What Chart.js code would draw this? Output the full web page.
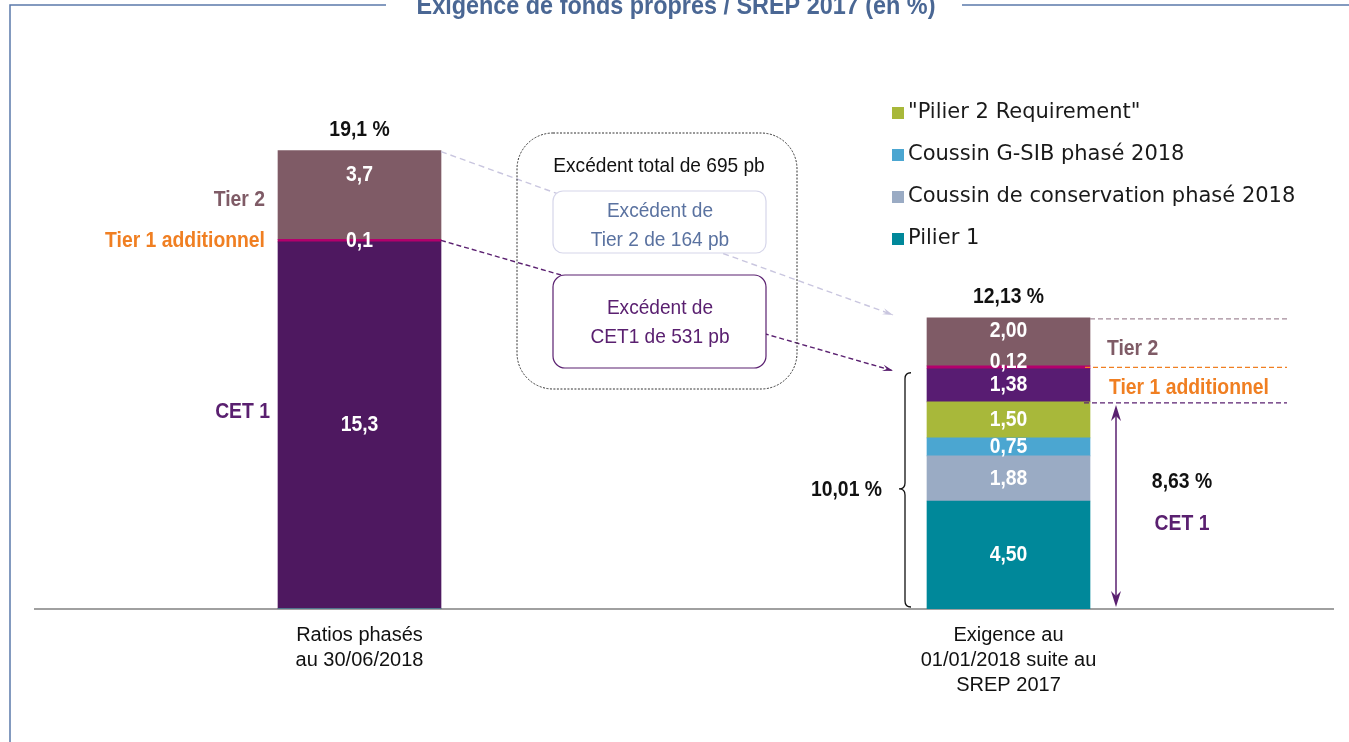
<!DOCTYPE html>
<html lang="fr">
<head>
<meta charset="utf-8">
<title>Exigence de fonds propres / SREP 2017 (en %)</title>
<script src="https://cdn.jsdelivr.net/npm/chart.js@4.4.1/dist/chart.umd.min.js"></script>
<style>
  html, body { margin: 0; padding: 0; background: #fff; }
  #wrap { width: 1349px; height: 742px; }
</style>
</head>
<body>
<div id="wrap"><canvas id="srepChart" width="1349" height="742"></canvas></div>
<script>
// Data (en %)
const categories = [['Ratios phasés', 'au 30/06/2018'], ['Exigence au', '01/01/2018 suite au', 'SREP 2017']];
const pilier1 = [0, 4.50];
const coussinConservation = [0, 1.88];
const coussinGsib = [0, 0.75];
const pilier2 = [0, 1.50];
const cet1 = [15.3, 1.38];
const tier1Add = [0.1, 0.12];
const tier2 = [3.7, 2.00];
const decimals = [1, 2];
const excedentTotal = 'Excédent total de 695 pb';
const excedentTier2 = ['Excédent de', 'Tier 2 de 164 pb'];
const excedentCet1 = ['Excédent de', 'CET1 de 531 pb'];
const title = 'Exigence de fonds propres / SREP 2017 (en %)';

const NARROW = '"Liberation Sans Narrow", "Arial Narrow", "Liberation Sans", sans-serif';
const f = (size, bold) => (bold ? 'bold ' : '') + size + 'px ' + NARROW;
const fmt = (v, i) => v.toFixed(decimals[i]).replace('.', ',');

const C = {
  tier2: '#7f5b66', at1: '#b3006c', cet1L: '#4e1860', cet1R: '#581c72',
  p2r: '#a8b83a', gsib: '#4ba6d1', cons: '#9aabc4', p1: '#00889a',
  orange: '#f07f22', purple: '#5a2070', frame: '#5b79aa'
};

// narrow look: squeeze the glyphs horizontally
function text(ctx, s, x, y, font, color, align, sx) {
  ctx.save();
  ctx.font = font; ctx.fillStyle = color;
  ctx.textAlign = align || 'center'; ctx.textBaseline = 'middle';
  ctx.translate(x, y); ctx.scale(sx || 0.88, 1);
  ctx.fillText(s, 0, 0);
  ctx.restore();
}

function rrect(ctx, x, y, w, h, r) {
  ctx.beginPath();
  ctx.moveTo(x + r, y);
  ctx.arcTo(x + w, y, x + w, y + h, r);
  ctx.arcTo(x + w, y + h, x, y + h, r);
  ctx.arcTo(x, y + h, x, y, r);
  ctx.arcTo(x, y, x + w, y, r);
  ctx.closePath();
}

function arrowLine(ctx, x1, y1, x2, y2, color, dash, w) {
  ctx.save();
  ctx.strokeStyle = color; ctx.fillStyle = color; ctx.lineWidth = w;
  ctx.setLineDash(dash);
  ctx.beginPath(); ctx.moveTo(x1, y1); ctx.lineTo(x2, y2); ctx.stroke();
  ctx.setLineDash([]);
  const a = Math.atan2(y2 - y1, x2 - x1), L = 11, s = 0.3;
  ctx.beginPath();
  ctx.moveTo(x2, y2);
  ctx.lineTo(x2 - L * Math.cos(a - s), y2 - L * Math.sin(a - s));
  ctx.lineTo(x2 - L * 0.6 * Math.cos(a), y2 - L * 0.6 * Math.sin(a));
  ctx.lineTo(x2 - L * Math.cos(a + s), y2 - L * Math.sin(a + s));
  ctx.closePath(); ctx.fill();
  ctx.restore();
}

function hDash(ctx, x1, x2, y, color) {
  ctx.save();
  ctx.strokeStyle = color; ctx.lineWidth = 1.3; ctx.setLineDash([5, 3]);
  ctx.beginPath(); ctx.moveTo(x1, y); ctx.lineTo(x2, y); ctx.stroke();
  ctx.restore();
}

const annotations = {
  id: 'annotations',
  beforeDraw(chart) {
    const ctx = chart.ctx;
    ctx.save();
    ctx.strokeStyle = C.frame; ctx.lineWidth = 1.5;
    ctx.beginPath();
    ctx.moveTo(10, 742); ctx.lineTo(10, 5); ctx.lineTo(386, 5);
    ctx.moveTo(962, 5); ctx.lineTo(1349, 5);
    ctx.stroke();
    ctx.font = f(26, true); ctx.fillStyle = '#4a6794';
    ctx.textAlign = 'center'; ctx.textBaseline = 'alphabetic';
    ctx.translate(676, 14); ctx.scale(0.9, 1);
    ctx.fillText(title, 0, 0);
    ctx.restore();
  },
  afterDatasetsDraw(chart) {
    const ctx = chart.ctx;
    const y = chart.scales.y;
    const metas = chart.data.datasets.map((_, k) => chart.getDatasetMeta(k));
    const el = (k, i) => metas[k].data[i];
    const L = 0, R = 1;
    const bl = el(4, L), br = el(4, R);
    const leftX2 = bl.x + bl.width / 2, rightX1 = br.x - br.width / 2, rightX2 = br.x + br.width / 2;
    const tier2L = el(6, L), tier2R = el(6, R), at1L = el(5, L), at1R = el(5, R), cetL = el(4, L), cetR = el(4, R);

    // connecting dashed arrows (behind boxes)
    arrowLine(ctx, leftX2, tier2L.y + 1, rightX1 - 34, tier2R.y - 3, '#c9c6df', [6, 4], 1.4);
    arrowLine(ctx, leftX2, at1L.y + 1, rightX1 - 34, cetR.y + 2, C.purple, [5, 3], 1.4);

    // big dotted box
    ctx.save();
    ctx.strokeStyle = '#333'; ctx.lineWidth = 1; ctx.setLineDash([2, 1.5]);
    rrect(ctx, 517, 133, 280, 256, 36); ctx.stroke();
    ctx.restore();
    text(ctx, excedentTotal, 659, 166, f(21), '#111', 'center', 0.91);

    // small boxes
    ctx.save();
    ctx.fillStyle = '#fff'; ctx.lineWidth = 1.2;
    ctx.strokeStyle = '#d6d6ea';
    rrect(ctx, 553, 191, 213, 62, 10); ctx.fill(); ctx.stroke();
    ctx.strokeStyle = C.purple;
    rrect(ctx, 553, 275, 213, 93, 12); ctx.fill(); ctx.stroke();
    ctx.restore();
    text(ctx, excedentTier2[0], 660, 211, f(21), '#5a72a0', 'center', 0.91);
    text(ctx, excedentTier2[1], 660, 240, f(21), '#5a72a0', 'center', 0.91);
    text(ctx, excedentCet1[0], 660, 308, f(21), C.purple, 'center', 0.91);
    text(ctx, excedentCet1[1], 660, 337, f(21), C.purple, 'center', 0.91);

    // values inside bars
    const offs = { 6: [24, 13], 5: [0, -5] };
    chart.data.datasets.forEach((ds, k) => {
      ds.data.forEach((v, i) => {
        if (!v) return;
        const e = el(k, i);
        let yy = (e.y + e.base) / 2;
        if (k === 6) yy = e.y + offs[6][i];
        else if (k === 5) yy += offs[5][i];
        text(ctx, fmt(v, i), e.x, yy, f(22, true), '#fff');
      });
    });

    // totals above bars
    [L, R].forEach(i => {
      const tot = chart.data.datasets.reduce((s, ds) => s + ds.data[i], 0);
      text(ctx, fmt(tot, i) + ' %', el(6, i).x, el(6, i).y - 21, f(22, true), '#111');
    });

    // left side labels
    text(ctx, 'Tier 2', 265, (tier2L.y + tier2L.base) / 2 + 5, f(22, true), C.tier2, 'right');
    text(ctx, 'Tier 1 additionnel', 265, (at1L.y + at1L.base) / 2, f(22, true), C.orange, 'right');
    text(ctx, 'CET 1', 270, (cetL.y + cetL.base) / 2 - 13, f(22, true), C.purple, 'right');

    // right side dashed levels + labels
    const p2rTop = el(3, R).y;
    hDash(ctx, rightX2, 1287, tier2R.y + 1, '#a38a99');
    hDash(ctx, rightX2 - 5, 1287, (at1R.y + at1R.base) / 2, C.orange);
    hDash(ctx, rightX2 - 6, 1287, p2rTop + 1, C.purple);
    text(ctx, 'Tier 2', 1107, (tier2R.y + tier2R.base) / 2 + 7, f(22, true), C.tier2, 'left');
    text(ctx, 'Tier 1 additionnel', 1109, (cetR.y + cetR.base) / 2 + 3, f(22, true), C.orange, 'left');

    // CET1 requirement double arrow
    const bottom = y.getPixelForValue(0);
    const ax = 1116, aTop = p2rTop + 3, aBot = bottom - 2;
    ctx.save();
    ctx.strokeStyle = C.purple; ctx.fillStyle = C.purple; ctx.lineWidth = 1.5;
    ctx.beginPath(); ctx.moveTo(ax, aTop + 4); ctx.lineTo(ax, aBot - 4); ctx.stroke();
    [[aTop, 1], [aBot, -1]].forEach(([ty, d]) => {
      ctx.beginPath();
      ctx.moveTo(ax, ty); ctx.lineTo(ax - 5, ty + 16 * d); ctx.lineTo(ax, ty + 11 * d); ctx.lineTo(ax + 5, ty + 16 * d);
      ctx.closePath(); ctx.fill();
    });
    ctx.restore();
    const cetReq = pilier1[R] + coussinConservation[R] + coussinGsib[R] + pilier2[R];
    const midCet = (p2rTop + bottom) / 2;
    text(ctx, fmt(cetReq, R) + ' %', 1182, midCet - 24, f(22, true), '#111');
    text(ctx, 'CET 1', 1182, midCet + 18, f(22, true), C.purple);

    // Tier 1 requirement brace
    const bTop = cetR.y + 4, bBot = bottom - 2, bMid = (cetR.y + bottom) / 2, bx = 905;
    ctx.save();
    ctx.strokeStyle = '#111'; ctx.lineWidth = 1.3;
    ctx.beginPath();
    ctx.moveTo(bx + 6, bTop);
    ctx.quadraticCurveTo(bx, bTop, bx, bTop + 6);
    ctx.lineTo(bx, bMid - 6);
    ctx.quadraticCurveTo(bx, bMid, bx - 6, bMid);
    ctx.quadraticCurveTo(bx, bMid, bx, bMid + 6);
    ctx.lineTo(bx, bBot - 6);
    ctx.quadraticCurveTo(bx, bBot, bx + 6, bBot);
    ctx.stroke();
    ctx.restore();
    text(ctx, fmt(cetReq + cet1[R], R) + ' %', 882, bMid + 1, f(22, true), '#111', 'right');

    // legend
    const items = [3, 2, 1, 0];
    items.forEach((k, n) => {
      const ly = 113 + n * 42;
      ctx.fillStyle = chart.data.datasets[k].backgroundColor;
      ctx.fillRect(892, ly - 6, 12, 12);
      text(ctx, chart.data.datasets[k].label, 908, ly, '21px "DejaVu Sans", Verdana, sans-serif', '#1a1a1a', 'left', 1);
    });
  }
};

new Chart(document.getElementById('srepChart'), {
  type: 'bar',
  data: {
    labels: categories,
    datasets: [
      { label: 'Pilier 1', data: pilier1, backgroundColor: C.p1 },
      { label: 'Coussin de conservation phasé 2018', data: coussinConservation, backgroundColor: C.cons },
      { label: 'Coussin G-SIB phasé 2018', data: coussinGsib, backgroundColor: C.gsib },
      { label: '"Pilier 2 Requirement"', data: pilier2, backgroundColor: C.p2r },
      { label: 'CET 1', data: cet1, backgroundColor: [C.cet1L, C.cet1R] },
      { label: 'Tier 1 additionnel', data: tier1Add, backgroundColor: C.at1 },
      { label: 'Tier 2', data: tier2, backgroundColor: C.tier2 }
    ]
  },
  options: {
    responsive: false,
    animation: false,
    barThickness: 163,
    layout: { padding: { left: 35, right: 16, top: 129, bottom: 38 } },
    plugins: { legend: { display: false }, tooltip: { enabled: false } },
    scales: {
      x: {
        stacked: true,
        grid: { display: false },
        border: { display: true, color: '#a0a0a0', width: 2 },
        ticks: { color: '#111', padding: 6, font: { family: NARROW, size: 20, lineHeight: 1.25 }, maxRotation: 0 },
        afterFit: s => { s.height = 95; }
      },
      y: { stacked: true, display: false, min: 0, max: 20 }
    }
  },
  plugins: [annotations]
});
</script>
</body>
</html>
